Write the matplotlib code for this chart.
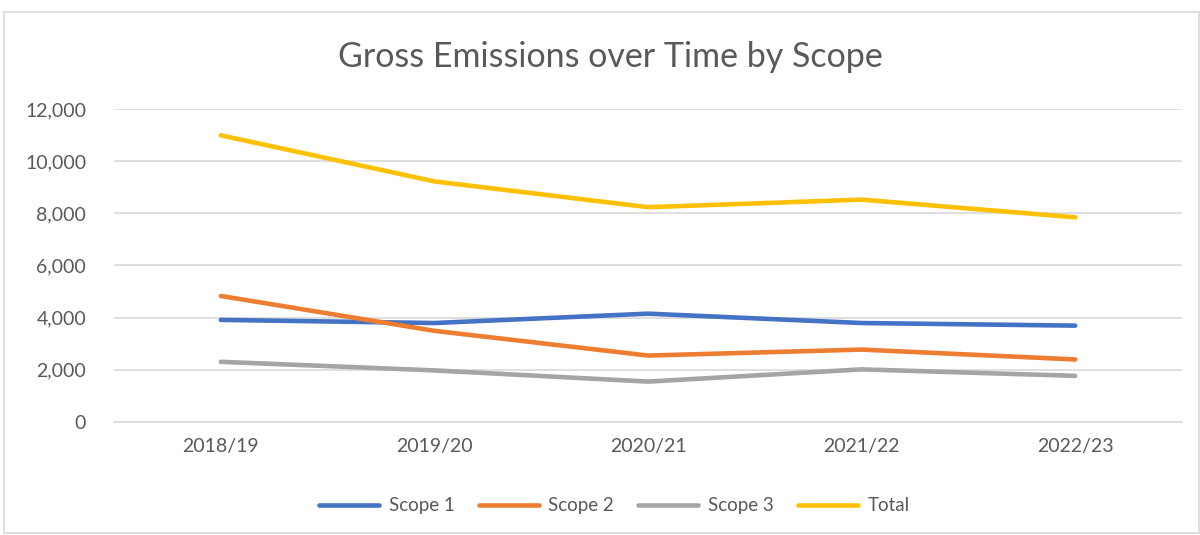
import matplotlib
matplotlib.use("Agg")
import matplotlib.pyplot as plt
from matplotlib.patches import Rectangle
import numpy as np

years = ["2018/19", "2019/20", "2020/21", "2021/22", "2022/23"]
scope1 = [3910, 3790, 4150, 3790, 3690]
scope2 = [4830, 3490, 2540, 2770, 2390]
scope3 = [2300, 1970, 1540, 2010, 1760]
total = [11000, 9230, 8240, 8530, 7850]

series = [("Scope 1", scope1, "#4472C4"),
          ("Scope 2", scope2, "#ED7D31"),
          ("Scope 3", scope3, "#A5A5A5"),
          ("Total", total, "#FFC000")]

plt.rcParams['font.family'] = ['Lato', 'DejaVu Sans']
grey = "#595959"

fig = plt.figure(figsize=(12, 5.35), dpi=100)
ax = fig.add_axes([0.095, 0.2118, 0.89, 0.5839])

x = np.arange(len(years))
for name, vals, col in series:
    ax.plot(x, vals, color=col, lw=3.3, label=name,
            solid_capstyle='round', solid_joinstyle='round')

ax.set_xlim(-0.5, len(years) - 0.5)
ax.set_ylim(0, 12000)
ax.set_yticks(range(0, 12001, 2000))
ax.set_yticklabels([f"{v:,}" for v in range(0, 12001, 2000)])
ax.set_xticks(x)
ax.set_xticklabels(years)
ax.tick_params(length=0, labelsize=14, colors=grey, pad=12)
ax.tick_params(axis='y', pad=20)
ax.grid(axis='y', color="#D9D9D9", lw=1.2)
ax.set_axisbelow(True)
for s in ["top", "right", "left"]:
    ax.spines[s].set_visible(False)
ax.spines["bottom"].set_color("#D9D9D9")
ax.spines["bottom"].set_linewidth(1.2)

fig.text(0.509, 0.893, "Gross Emissions over Time by Scope", ha='center', va='center',
         fontsize=24.5, color=grey)

fig.legend(loc='center', bbox_to_anchor=(0.512, 0.055), ncol=4, frameon=False,
           fontsize=13.5, labelcolor=grey, handlelength=3.2, columnspacing=1.3,
           handletextpad=0.5)

fig.patches.append(Rectangle((0.003, 0.004), 0.996, 0.973, transform=fig.transFigure,
                             fill=False, edgecolor="#D9D9D9", lw=1.2))

fig.savefig("out.png", dpi=100)
